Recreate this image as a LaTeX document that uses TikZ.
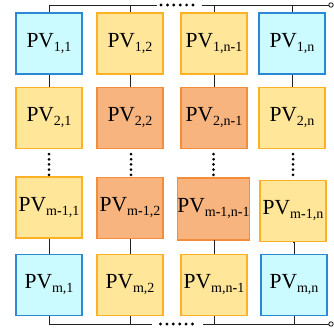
\documentclass[tikz,border=0pt]{standalone}
\usepackage{fontspec}
\setmainfont{Liberation Serif}
\definecolor{cyanfill}{HTML}{CCFBFF}
\definecolor{cyanline}{HTML}{2B88D4}
\definecolor{yelfill}{HTML}{FFE699}
\definecolor{yelline}{HTML}{FFB126}
\definecolor{orgfill}{HTML}{F8B47E}
\definecolor{orgline}{HTML}{F38D3A}
\definecolor{wire}{HTML}{222222}
\newcommand{\pvlab}[1]{PV\raisebox{-4pt}{\fontsize{14}{14}\selectfont #1}}
\newcommand{\hy}{{\bfseries -}}
\tikzset{
  cell/.style={draw, line width=1.1pt, inner sep=0pt, minimum width=66pt, minimum height=61pt,
    font=\fontsize{21.5}{24}\selectfont},
  cyancell/.style={cell, fill=cyanfill, draw=cyanline},
  yelcell/.style={cell, fill=yelfill, draw=yelline},
  orgcell/.style={cell, fill=orgfill, draw=orgline},
  wireline/.style={draw=wire, line width=0.9pt},
  vdots/.style={line width=3pt, line cap=round, dash pattern=on 0pt off 5.2pt},
  hdots/.style={line width=3.2pt, line cap=round, dash pattern=on 0pt off 6.4pt}
}
\begin{document}
\begin{tikzpicture}[x=1pt,y=-1pt]
\useasboundingbox (0,0) rectangle (333,334);
% row 1
\node[cyancell] (r1c1) at (49,43.5) {\pvlab{1,1}};
\node[yelcell]  (r1c2) at (130,43.5) {\pvlab{1,2}};
\node[yelcell]  (r1c3) at (214,43.5) {\pvlab{1,n\hy1}};
\node[cyancell] (r1c4) at (292,43.5) {\pvlab{1,n}};
% row 2
\node[yelcell]  (r2c1) at (49,118) {\pvlab{2,1}};
\node[orgcell]  (r2c2) at (130,118) {\pvlab{2,2}};
\node[orgcell]  (r2c3) at (214,118) {\pvlab{2,n\hy1}};
\node[yelcell]  (r2c4) at (292,118) {\pvlab{2,n}};
% row 3
\node[yelcell]  (r3c1) at (49,207.5) {\pvlab{m\hy1,1}};
\node[orgcell]  (r3c2) at (130,208) {\pvlab{m\hy1,2}};
\node[orgcell, minimum width=71pt, minimum height=62pt] (r3c3) at (213.5,209) {\pvlab{m\hy1,n\hy1}};
\node[yelcell]  (r3c4) at (293,211) {\pvlab{m\hy1,n}};
% row 4
\node[cyancell] (r4c1) at (49,285) {\pvlab{m,1}};
\node[yelcell]  (r4c2) at (130,285) {\pvlab{m,2}};
\node[yelcell]  (r4c3) at (214,285) {\pvlab{m,n\hy1}};
\node[cyancell] (r4c4) at (294,285) {\pvlab{m,n}};
% top bus
\coordinate (t1) at (49,5);
\coordinate (t2) at (130,5);
\coordinate (t3) at (214,5);
\coordinate (t4) at (292,5);
\coordinate (tgapL) at (157,5);
\coordinate (tgapR) at (202,5);
\coordinate (tend) at (328.5,5);
\coordinate (td1) at (161,5);
\coordinate (td2) at (193.5,5);
\draw[wireline] (t1) -- (tgapL);
\draw[wireline] (tgapR) -- (tend);
\draw[wireline] (331,5) circle (2.2pt);
\draw[hdots] (td1) -- (td2);
\foreach \c/\t in {1/t1,2/t2,3/t3,4/t4} \draw[wireline] (\t) -- (r1c\c.north);
% bottom bus
\coordinate (b1) at (49,324);
\coordinate (b2) at (130,324);
\coordinate (b3) at (214,324);
\coordinate (b4) at (294,324);
\coordinate (bgapL) at (152,324);
\coordinate (bgapR) at (203,324);
\coordinate (bend) at (328.5,324);
\coordinate (bd1) at (160.5,324);
\coordinate (bd2) at (193,324);
\draw[wireline] (b1) -- (bgapL);
\draw[wireline] (bgapR) -- (bend);
\draw[wireline] (331,324) circle (2.2pt);
\draw[hdots] (bd1) -- (bd2);
\foreach \c/\b in {1/b1,2/b2,3/b3,4/b4} \draw[wireline] (r4c\c.south) -- (\b);
% row 1 -> row 2
\foreach \c in {1,2,3,4} \draw[wireline] (r1c\c.south) -- (r2c\c.north);
% row 3 -> row 4
\foreach \c in {1,2,3,4} \draw[wireline] (r3c\c.south) -- (r4c\c.north |- r3c\c.south) -- (r4c\c.north);
% vertical dots row 2 -> row 3
\foreach \c/\x in {1/49,2/131,3/213.5,4/293}
  \draw[vdots] (r2c\c.south -| \x,0) ++(0,5) -- ++(0,21);
\end{tikzpicture}
\end{document}
